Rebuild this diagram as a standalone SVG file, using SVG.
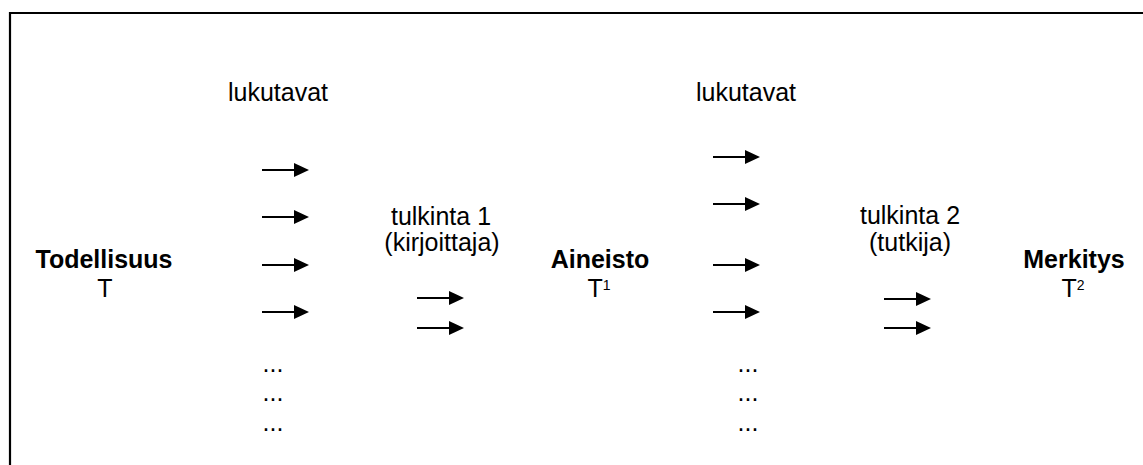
<svg xmlns="http://www.w3.org/2000/svg" width="1143" height="465" viewBox="0 0 1143 465">
<defs>
<style>
text{font-family:"Liberation Sans",Arial,sans-serif;font-size:25px;fill:#000;text-anchor:middle}
.b{font-weight:bold}
.s{font-size:14px}
.ar{stroke:#000;stroke-width:1.8;fill:none}
</style>
<g id="arrow"><line class="ar" x1="0" y1="0" x2="34" y2="0"/><polygon points="32,-7 47,0 32,7" fill="#000"/></g>
</defs>
<rect width="1143" height="465" fill="#fff"/>
<path d="M10,470 V13 H1150" fill="none" stroke="#000" stroke-width="2.2"/>
<g id="n-todellisuus"><text class="b" x="104" y="268">Todellisuus</text><text x="105" y="297">T</text></g>
<g id="n-aineisto"><text class="b" x="600" y="268">Aineisto</text><text x="599" y="297">T<tspan class="s" dy="-7">1</tspan></text></g>
<g id="n-merkitys"><text class="b" x="1074" y="268">Merkitys</text><text x="1073" y="297">T<tspan class="s" dy="-7">2</tspan></text></g>
<g id="l-lukutavat1"><text x="278" y="101">lukutavat</text></g>
<g id="l-lukutavat2"><text x="746" y="101">lukutavat</text></g>
<g id="l-tulkinta1"><text x="441" y="225">tulkinta 1</text><text x="442" y="251">(kirjoittaja)</text></g>
<g id="l-tulkinta2"><text x="910" y="224">tulkinta 2</text><text x="910" y="251">(tutkija)</text></g>
<g id="dots1"><text x="273" y="372">...</text><text x="273" y="401">...</text><text x="273" y="431">...</text></g>
<g id="dots2"><text x="748" y="372">...</text><text x="748" y="401">...</text><text x="748" y="431">...</text></g>
<g id="connectors">
<use href="#arrow" x="262" y="170"/>
<use href="#arrow" x="262" y="217"/>
<use href="#arrow" x="262" y="265"/>
<use href="#arrow" x="262" y="312"/>
<use href="#arrow" x="417" y="298"/>
<use href="#arrow" x="417" y="328"/>
<use href="#arrow" x="713" y="157"/>
<use href="#arrow" x="713" y="204"/>
<use href="#arrow" x="713" y="265"/>
<use href="#arrow" x="713" y="312"/>
<use href="#arrow" x="884" y="299"/>
<use href="#arrow" x="884" y="328"/>
</g>
</svg>
